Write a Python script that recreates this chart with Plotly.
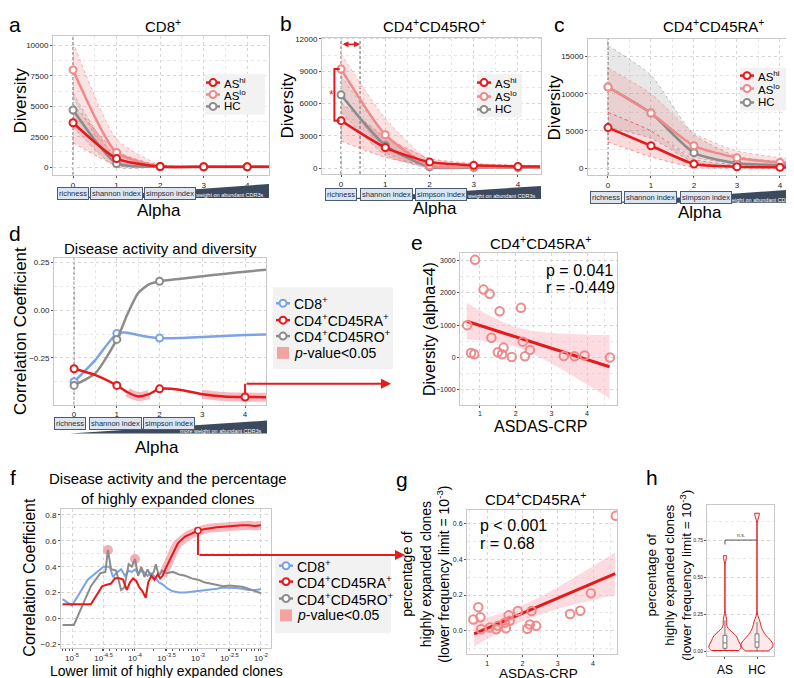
import plotly.graph_objects as go

W, H = 794, 678
FONT = "Liberation Sans, Arial, sans-serif"
RED = "#e41a1c"
PINK = "#f08a8a"
GREY = "#8c8c8c"
BLUE = "#7ca3e4"

# ---- a-c: diversity profiles (alpha 0..4 plus right edge) ----
alpha = [0, 1, 2, 3, 4, 4.5]
alpha_labels = ["richness", "shannon index", "simpson index"]

a_hi = [3650, 700, 50, 30, 30, 30]
a_hi_lo = [2000, 150, 0, 0, 0, 0]
a_hi_up = [5200, 1300, 150, 70, 70, 70]
a_lo = [8000, 1200, 60, 30, 30, 30]
a_lo_lo = [5800, 250, 0, 0, 0, 0]
a_lo_up = [10300, 2300, 200, 80, 80, 80]
a_hc = [4700, 300, 30, 20, 20, 20]
a_hc_lo = [3300, 0, 0, 0, 0, 0]
a_hc_up = [6100, 800, 100, 50, 50, 50]

b_hi = [4400, 1900, 550, 250, 150, 130]
b_hi_lo = [2500, 1000, 200, 80, 40, 30]
b_hi_up = [6100, 2900, 900, 420, 260, 230]
b_lo = [9200, 3100, 200, 100, 60, 50]
b_lo_lo = [7200, 1500, 0, 0, 0, 0]
b_lo_up = [10600, 4600, 700, 300, 200, 180]
b_hc = [6800, 2100, 100, 50, 30, 30]
b_hc_lo = [5200, 1200, 0, 0, 0, 0]
b_hc_up = [8600, 3100, 350, 150, 100, 90]

c_hi = [5450, 3000, 550, 180, 90, 80]
c_hi_lo = [3500, 1500, 100, 0, 0, 0]
c_hi_up = [7500, 5000, 1200, 450, 300, 280]
c_lo = [10900, 7400, 3000, 1400, 760, 650]
c_lo_lo = [7500, 5000, 1500, 600, 250, 200]
c_lo_up = [13500, 10000, 4700, 2300, 1400, 1250]
c_hc = [10900, 7400, 2050, 650, 400, 350]
c_hc_lo = [5500, 4000, 800, 200, 100, 80]
c_hc_up = [16500, 12500, 4500, 1600, 900, 800]

# ---- d: correlation with disease activity vs alpha ----
d_alpha = [0, 0.5, 1, 1.25, 1.5, 1.75, 2, 2.5, 3, 3.5, 4, 4.5]
d_cd8 = [-0.375, -0.26, -0.122, -0.118, -0.13, -0.14, -0.146, -0.145, -0.14, -0.135, -0.13, -0.127]
d_ra = [-0.307, -0.34, -0.394, -0.43, -0.452, -0.44, -0.412, -0.418, -0.44, -0.452, -0.455, -0.456]
d_ro = [-0.394, -0.33, -0.153, -0.02, 0.09, 0.135, 0.152, 0.165, 0.178, 0.19, 0.202, 0.212]
d_marks = [0, 1, 2]
d_ra_marks = [0, 1, 2, 4]
d_sig = [[1.25, 1.5, 1.75], [3, 3.5, 4, 4.5]]

# ---- e: diversity (alpha=4) vs ASDAS-CRP ----
e_asdas = [0.86, 1.10, 1.27, 0.64, 1.55, 2.15, 1.32, 0.75, 0.84, 1.50, 1.62, 1.66, 1.89, 2.20, 2.26, 2.40, 3.35, 3.65, 3.93, 4.64]
e_div = [3020, 2100, 1970, 1000, 1430, 1535, 610, 140, 100, 160, 100, 305, 15, 490, 40, 230, 45, 40, 60, 0]
e_fit_x = [0.63, 1.0, 1.5, 2.0, 2.5, 3.0, 3.5, 4.0, 4.63]
e_fit = [1120, 990, 814, 638, 462, 286, 110, -66, -288]
e_fit_lo = [555, 529, 463, 331, 105, -186, -506, -839, -1268]
e_fit_hi = [1685, 1451, 1165, 945, 819, 758, 726, 707, 692]

# ---- f: correlation vs lower limit (log10) ----
f_ra_x = [-5.15, -4.70, -4.52, -4.45, -4.38, -4.32, -4.25, -4.19, -4.13, -4.08, -4.03, -3.98, -3.93, -3.88,
          -3.83, -3.79, -3.74, -3.69, -3.64, -3.60, -3.56, -3.52, -3.48, -3.44, -3.40, -3.36, -3.32, -3.28,
          -3.24, -3.20, -3.15, -3.10, -3.05, -3.00, -2.90, -2.80, -2.70, -2.60, -2.50, -2.40, -2.30, -2.20,
          -2.10, -2.00]
f_ra_y = [0.11, 0.11, 0.25, 0.26, 0.27, 0.31, 0.31, 0.30, 0.22, 0.28, 0.31, 0.29, 0.24, 0.21,
          0.16, 0.28, 0.33, 0.30, 0.34, 0.31, 0.33, 0.38, 0.42, 0.46, 0.51, 0.55, 0.58, 0.60,
          0.62, 0.635, 0.645, 0.655, 0.665, 0.68, 0.69, 0.70, 0.705, 0.71, 0.715, 0.72, 0.72, 0.72,
          0.715, 0.72]
f_ro_x = [-5.15, -4.97, -4.70, -4.55, -4.47, -4.43, -4.38, -4.30, -4.22, -4.17, -4.10, -4.05, -4.00,
          -3.95, -3.90, -3.85, -3.80, -3.75, -3.70, -3.67, -3.62, -3.57, -3.50, -3.40, -3.30, -3.20,
          -3.10, -3.00, -2.90, -2.80, -2.70, -2.60, -2.50, -2.40, -2.30, -2.20, -2.10, -2.00]
f_ro_y = [-0.05, -0.05, 0.25, 0.35, 0.36, 0.53, 0.38, 0.37, 0.22, 0.24, 0.42, 0.40, 0.46,
          0.33, 0.40, 0.32, 0.38, 0.33, 0.36, 0.42, 0.33, 0.37, 0.35, 0.36, 0.34, 0.33,
          0.31, 0.30, 0.28, 0.27, 0.26, 0.25, 0.255, 0.25, 0.245, 0.23, 0.21, 0.195]
f_cd8_x = [-5.15, -5.00, -4.75, -4.65, -4.55, -4.50, -4.40, -4.35, -4.30, -4.22, -4.16, -4.10, -4.05,
           -4.00, -3.95, -3.88, -3.80, -3.75, -3.70, -3.62, -3.55, -3.48, -3.40, -3.30, -3.20, -3.10,
           -3.00, -2.90, -2.80, -2.70, -2.60, -2.50, -2.40, -2.30, -2.20, -2.10, -2.00]
f_cd8_y = [0.15, 0.10, 0.30, 0.34, 0.38, 0.40, 0.40, 0.32, 0.35, 0.38, 0.33, 0.37, 0.36,
           0.38, 0.35, 0.37, 0.33, 0.35, 0.33, 0.28, 0.26, 0.23, 0.21, 0.20, 0.20, 0.205,
           0.21, 0.22, 0.225, 0.23, 0.24, 0.24, 0.235, 0.23, 0.22, 0.22, 0.225]
f_ra_sig_from = -3.56
f_ro_sig = [-4.43, -4.00]
f_pick = -3.00
f_ticks = [-5, -4.5, -4, -3.5, -3, -2.5, -2]

# ---- g: percentage of highly expanded clones vs ASDAS-CRP ----
g_asdas = [4.65, 3.94, 3.64, 3.35, 0.61, 0.75, 0.81, 0.83, 1.08, 1.26, 1.31, 1.50, 1.53, 1.61, 1.64, 1.87, 2.14, 2.21, 2.26, 2.39]
g_pct = [0.645, 0.21, 0.112, 0.094, 0.063, 0.132, 0.075, 0.008, 0.018, 0.008, 0.027, 0.045, 0.014, 0.086, 0.055, 0.11, 0.011, 0.035, 0.11, 0.027]
g_fit_x = [0.63, 1.0, 1.5, 2.0, 2.5, 3.0, 3.5, 4.0, 4.63]
g_fit = [-0.018, 0.013, 0.056, 0.098, 0.140, 0.182, 0.225, 0.267, 0.320]
g_fit_lo = [-0.090, -0.047, 0.007, 0.053, 0.090, 0.121, 0.148, 0.172, 0.202]
g_fit_hi = [0.054, 0.074, 0.105, 0.143, 0.190, 0.244, 0.302, 0.362, 0.438]

# ---- h: AS vs HC ----
h_as = g_pct
h_hc = [0.005, 0.01, 0.02, 0.03, 0.04, 0.05, 0.06, 0.07, 0.08, 0.10, 0.12, 0.15, 0.20, 0.93]


def fx(px):
    return px / W


def fy(py):
    return 1 - py / H


fig = go.Figure()
shapes = []
annotations = []


def sc(xa, ya, **kw):
    fig.add_trace(go.Scatter(xaxis=xa, yaxis=ya, showlegend=False, **kw))


def band(xa, ya, x, lo, hi, fill, edge, shape="spline"):
    ln = dict(color=edge, width=0.8, dash="dot", shape=shape, smoothing=0.6)
    sc(xa, ya, x=x, y=lo, mode="lines", line=ln, hoverinfo="skip")
    sc(xa, ya, x=x, y=hi, mode="lines", line=ln, fill="tonexty", fillcolor=fill, hoverinfo="skip")


def profile(xa, ya, x, y, color, name, mx=None):
    sc(xa, ya, x=x, y=y, mode="lines", name=name, line=dict(color=color, width=2.5, shape="spline", smoothing=0.6))
    if mx is None:
        mx = x[:5]
    my = [y[x.index(v)] for v in mx]
    sc(xa, ya, x=mx, y=my, mode="markers", name=name,
       marker=dict(size=7, color="white", line=dict(color=color, width=2)))


def txt(text, x, y, size, color="black", xanchor="center", yanchor="middle", **kw):
    annotations.append(dict(text=text, x=fx(x), y=fy(y), xref="paper", yref="paper", showarrow=False,
                            font=dict(family=FONT, size=size, color=color),
                            xanchor=xanchor, yanchor=yanchor, **kw))


def alpha_strip(xa, left, right, top, bot, box_y, box_x):
    shapes.append(dict(type="path", xref="paper", yref="paper",
                       path=f"M {fx(left)},{fy(bot)} L {fx(right)},{fy(bot)} L {fx(right)},{fy(top)} Z",
                       fillcolor="#3b4a5e", line=dict(width=0)))
    txt("more weight on abundant CDR3s", right - 3, bot - 2.5, 5.5, color="white", xanchor="right")
    for lab, xv in zip(alpha_labels, box_x):
        annotations.append(dict(text=lab, x=xv, y=fy(box_y), xref=xa, yref="paper", showarrow=False,
                                font=dict(family=FONT, size=7.5, color="#1d2b3c"),
                                bgcolor="#dde6f0", bordercolor="#4a5b73", borderwidth=1, borderpad=1))


def legend_box(x0, y0, x1, y1):
    shapes.append(dict(type="rect", xref="paper", yref="paper", x0=fx(x0), x1=fx(x1), y0=fy(y1), y1=fy(y0),
                       fillcolor="#f2f2f2", line=dict(width=0)))


def legend_item(color, x, y, label, size, square=False):
    if square:
        shapes.append(dict(type="rect", xref="paper", yref="paper", x0=fx(x - 6), x1=fx(x + 6),
                           y0=fy(y + 6), y1=fy(y - 6), fillcolor="#f4a3a3", line=dict(width=0)))
    else:
        shapes.append(dict(type="line", xref="paper", yref="paper", x0=fx(x - 7), x1=fx(x + 7),
                           y0=fy(y), y1=fy(y), line=dict(color=color, width=2.5)))
        shapes.append(dict(type="circle", xref="paper", yref="paper", x0=fx(x - 3.5), x1=fx(x + 3.5),
                           y0=fy(y + 3.5), y1=fy(y - 3.5), fillcolor="white", line=dict(color=color, width=2)))
    txt(label, x + 9, y, size, xanchor="left")


def vdash(xa, xv):
    shapes.append(dict(type="line", xref=xa, yref=xa.replace("x", "y") + " domain", x0=xv, x1=xv, y0=0, y1=1,
                       line=dict(color="#333", width=0.8, dash="3px,2px"), layer="below"))


# ---------- panels a, b, c ----------
for xa, ya, hc, lo, hi in [
    ("x", "y", (a_hc, a_hc_lo, a_hc_up), (a_lo, a_lo_lo, a_lo_up), (a_hi, a_hi_lo, a_hi_up)),
    ("x2", "y2", (b_hc, b_hc_lo, b_hc_up), (b_lo, b_lo_lo, b_lo_up), (b_hi, b_hi_lo, b_hi_up)),
    ("x3", "y3", (c_hc, c_hc_lo, c_hc_up), (c_lo, c_lo_lo, c_lo_up), (c_hi, c_hi_lo, c_hi_up)),
]:
    band(xa, ya, alpha, hc[1], hc[2], "rgba(150,150,150,0.22)", "rgba(120,120,120,0.6)")
    band(xa, ya, alpha, lo[1], lo[2], "rgba(240,128,128,0.22)", "rgba(240,128,128,0.7)")
    band(xa, ya, alpha, hi[1], hi[2], "rgba(228,26,28,0.16)", "rgba(228,26,28,0.5)")
    profile(xa, ya, alpha, hc[0], GREY, "HC")
    profile(xa, ya, alpha, lo[0], PINK, "AS lo")
    profile(xa, ya, alpha, hi[0], RED, "AS hi")

# ---------- panel d ----------
for seg in d_sig:
    sc("x4", "y4", x=seg, y=[d_ra[d_alpha.index(v)] for v in seg], mode="lines", hoverinfo="skip",
       line=dict(color="rgba(242,140,150,0.6)", width=9, shape="spline"))
profile("x4", "y4", d_alpha, d_cd8, BLUE, "CD8+", d_marks)
profile("x4", "y4", d_alpha, d_ro, GREY, "CD4+CD45RO+", d_marks)
d_pick = 4
d_pick_y = d_ra[d_alpha.index(d_pick)]
sc("x4", "y4", x=[d_pick, d_pick], y=[d_pick_y, -0.385], mode="lines", hoverinfo="skip",
   line=dict(color=RED, width=2))
profile("x4", "y4", d_alpha, d_ra, RED, "CD4+CD45RA+", d_ra_marks)

# ---------- panel e ----------
band("x5", "y5", e_fit_x, e_fit_lo, e_fit_hi, "rgba(250,185,195,0.5)", "rgba(0,0,0,0)")
sc("x5", "y5", x=e_fit_x, y=e_fit, mode="lines", line=dict(color=RED, width=3))
sc("x5", "y5", x=e_asdas, y=e_div, mode="markers",
   marker=dict(symbol="circle-open", size=8.5, color="#ee8a8a", line=dict(width=2)))

# ---------- panel f ----------
sig_x = [v for v in f_ra_x if v >= f_ra_sig_from]
sc("x6", "y6", x=sig_x, y=[f_ra_y[f_ra_x.index(v)] for v in sig_x], mode="lines", hoverinfo="skip",
   line=dict(color="rgba(242,140,150,0.6)", width=9))
sc("x6", "y6", x=f_ro_sig, y=[f_ro_y[f_ro_x.index(v)] for v in f_ro_sig], mode="markers", hoverinfo="skip",
   marker=dict(size=10, color="rgba(242,140,150,0.7)"))
sc("x6", "y6", x=f_cd8_x, y=f_cd8_y, mode="lines", line=dict(color=BLUE, width=2))
sc("x6", "y6", x=f_ro_x, y=f_ro_y, mode="lines", line=dict(color=GREY, width=2))
f_pick_y = f_ra_y[f_ra_x.index(f_pick)]
sc("x6", "y6", x=[f_pick, f_pick], y=[f_pick_y, 0.49], mode="lines", hoverinfo="skip",
   line=dict(color=RED, width=2))
sc("x6", "y6", x=f_ra_x, y=f_ra_y, mode="lines", line=dict(color=RED, width=2))
sc("x6", "y6", x=[f_pick], y=[f_pick_y], mode="markers",
   marker=dict(size=6, color="white", line=dict(color=RED, width=1.5)))

# ---------- panel g ----------
band("x7", "y7", g_fit_x, g_fit_lo, g_fit_hi, "rgba(250,185,195,0.5)", "rgba(0,0,0,0)")
sc("x7", "y7", x=g_fit_x, y=g_fit, mode="lines", line=dict(color=RED, width=3))
sc("x7", "y7", x=g_asdas, y=g_pct, mode="markers",
   marker=dict(symbol="circle-open", size=8.5, color="#ee8a8a", line=dict(width=2)))

# ---------- panel h ----------
for name, vals in [("AS", h_as), ("HC", h_hc)]:
    fig.add_trace(go.Violin(x=[name] * len(vals), y=vals, xaxis="x8", yaxis="y8", showlegend=False,
                            line=dict(color=RED, width=1), fillcolor="rgba(252,215,215,0.55)",
                            spanmode="hard", bandwidth=0.03, width=1.0, points=False,
                            box=dict(visible=True, width=0.12, fillcolor="white", line=dict(color="#777", width=1)),
                            meanline=dict(visible=False)))

# ---------- axes ----------
AX = dict(showline=True, linecolor="#c8c8c8", linewidth=1, mirror=True, ticks="outside", ticklen=2,
          tickcolor="#555", tickfont=dict(family=FONT, size=8, color="#222"), showgrid=True,
          gridcolor="#d6d6d6", griddash="dot", zeroline=False, fixedrange=True)
MINOR = dict(showgrid=True, gridcolor="#e8e8e8", griddash="dot")

layout = {}


def set_axes(n, xpx, ypx, xr, yr, xkw, ykw):
    s = "" if n == 1 else str(n)
    layout["xaxis" + s] = dict(AX, domain=[fx(xpx[0]), fx(xpx[1])], range=xr, anchor="y" + s, **xkw)
    layout["yaxis" + s] = dict(AX, domain=[fy(ypx[1]), fy(ypx[0])], range=yr, anchor="x" + s, **ykw)


ax_alpha = dict(tick0=0, dtick=1, minor=dict(MINOR, dtick=0.5))
set_axes(1, (45, 261), (25, 165), [-0.46, 4.5], [-650, 10800], ax_alpha,
         dict(tick0=0, dtick=2500, tickformat="d", minor=dict(MINOR, dtick=1250)))
set_axes(2, (314, 533), (27, 164), [-0.43, 4.52], [-560, 12100], ax_alpha,
         dict(tick0=0, dtick=3000, tickformat="d", minor=dict(MINOR, dtick=1500)))
set_axes(3, (580, 793), (28, 165), [-0.465, 4.49], [-940, 17400], ax_alpha,
         dict(tick0=0, dtick=5000, tickformat="d", minor=dict(MINOR, dtick=2500)))
set_axes(4, (46, 258), (248, 396), [-0.47, 4.49], [-0.495, 0.276], ax_alpha,
         dict(tick0=0, dtick=0.25, tickformat=".2f", minor=dict(MINOR, dtick=0.125)))
set_axes(5, (452, 609), (243, 396), [0.44, 4.84], [-1460, 3246],
         dict(tick0=0, dtick=1, minor=dict(MINOR, dtick=0.5), tickfont=dict(family=FONT, size=7, color="#222")),
         dict(tick0=0, dtick=1000, tickformat="d", minor=dict(MINOR, dtick=500),
              tickfont=dict(family=FONT, size=7, color="#222")))
f_minor = [round(e + k, 4) for e in [-6, -5, -4, -3] for k in
           [0.30103, 0.47712, 0.60206, 0.69897, 0.77815, 0.84510, 0.90309, 0.95424]]
set_axes(6, (53, 263), (501, 641), [-5.175, -1.84], [-0.23, 0.846],
         dict(tickmode="array", tickvals=f_ticks,
              ticktext=["10<sup>%g</sup>" % t for t in f_ticks],
              minor=dict(tickmode="array", tickvals=f_minor, ticks="outside", ticklen=2, tickcolor="#555",
                         showgrid=False)),
         dict(tick0=0, dtick=0.2, tickformat=".1f", minor=dict(MINOR, dtick=0.1)))
set_axes(7, (459, 609), (502, 647), [0.43, 4.68], [-0.132, 0.677],
         dict(tick0=0, dtick=1, minor=dict(MINOR, dtick=0.5), tickfont=dict(family=FONT, size=7, color="#222")),
         dict(tick0=0, dtick=0.2, tickformat=".1f", minor=dict(MINOR, dtick=0.1),
              tickfont=dict(family=FONT, size=7, color="#222")))
set_axes(8, (699, 766), (497, 649), [-0.56, 1.53], [-0.03, 0.985],
         dict(type="category", showgrid=False, tickfont=dict(family=FONT, size=12, color="black")),
         dict(tickmode="array", tickvals=[0, 0.25, 0.5, 0.75], ticktext=["0.00", "0.25", "0.50", "0.75"],
              minor=dict(MINOR, dtick=0.125), tickfont=dict(family=FONT, size=5, color="#222")))

# ---------- decorations ----------
vdash("x", 0)
vdash("x2", 0)
vdash("x2", 0.43)
vdash("x3", 0)
vdash("x4", 0)

alpha_strip("x", 63, 261, 174, 188, 177, [0, 1, 2.23])
alpha_strip("x2", 332, 533, 176, 189, 178, [0, 1.02, 2.26])
alpha_strip("x3", 598, 793, 179, 193, 181, [-0.05, 1.0, 2.28])
alpha_strip("x4", 62, 259, 412, 425, 415, [-0.1, 0.96, 2.22])

# b: significance bracket and window arrow
shapes.append(dict(type="path", xref="x2", yref="y2", path="M -0.03,9200 L -0.15,9200 L -0.15,4400 L -0.03,4400",
                   line=dict(color=RED, width=2)))
annotations.append(dict(text="*", x=-0.22, y=6800, xref="x2", yref="y2", showarrow=False,
                        font=dict(family=FONT, size=12, color=RED)))
annotations.append(dict(text="", x=0.43, y=11500, ax=0, ay=11500, xref="x2", yref="y2", axref="x2", ayref="y2",
                        showarrow=True, arrowside="end+start", arrowhead=2, arrowsize=0.8, arrowwidth=1.5,
                        arrowcolor=RED))

# d -> e arrow
d_px = 46 + (d_pick + 0.47) / (4.49 + 0.47) * (258 - 46)
annotations.append(dict(text="", x=fx(383), y=-0.385, xref="paper", yref="y4", ax=-(383 - d_px), ay=0,
                        showarrow=True, arrowhead=2, arrowsize=1, arrowwidth=2, arrowcolor=RED, standoff=0))

# f -> g arrow
f_px = 53 + (f_pick + 5.175) / (-1.84 + 5.175) * (263 - 53)
annotations.append(dict(text="", x=fx(397), y=0.49, xref="paper", yref="y6", ax=-(397 - f_px), ay=0,
                        showarrow=True, arrowhead=2, arrowsize=1, arrowwidth=2, arrowcolor=RED, standoff=0))

# h: n.s. bracket
shapes.append(dict(type="path", xref="x8", yref="y8", path="M 0,0.72 L 0,0.75 L 1,0.75",
                   line=dict(color="#555", width=1)))
annotations.append(dict(text="n.s.", x=0.5, y=0.75, xref="x8", yref="y8", yanchor="bottom", showarrow=False,
                        font=dict(family=FONT, size=5, color="#333")))

# legends
legend_box(197, 63, 257, 104)
legend_item(RED, 205, 72, "AS<sup>hi</sup>", 11.5)
legend_item(PINK, 205, 84, "AS<sup>lo</sup>", 11.5)
legend_item(GREY, 205, 96, "HC", 11.5)

legend_box(469, 63, 514, 107)
legend_item(RED, 476, 72, "AS<sup>hi</sup>", 11.5)
legend_item(PINK, 476, 86, "AS<sup>lo</sup>", 11.5)
legend_item(GREY, 476, 99, "HC", 11.5)

legend_box(732, 57, 779, 100)
legend_item(RED, 739, 65, "AS<sup>hi</sup>", 11.5)
legend_item(PINK, 739, 78, "AS<sup>lo</sup>", 11.5)
legend_item(GREY, 739, 92, "HC", 11.5)

legend_box(265, 278, 385, 360)
legend_item(BLUE, 275, 294, "CD8<sup>+</sup>", 14)
legend_item(RED, 275, 311, "CD4<sup>+</sup>CD45RA<sup>+</sup>", 14)
legend_item(GREY, 275, 327, "CD4<sup>+</sup>CD45RO<sup>+</sup>", 14)
legend_item(RED, 275, 344, "<i>p</i>-value&lt;0.05", 14, square=True)

legend_box(267, 549, 383, 626)
legend_item(BLUE, 278, 558, "CD8<sup>+</sup>", 14)
legend_item(RED, 278, 574, "CD4<sup>+</sup>CD45RA<sup>+</sup>", 14)
legend_item(GREY, 278, 591, "CD4<sup>+</sup>CD45RO<sup>+</sup>", 14)
legend_item(RED, 278, 608, "<i>p</i>-value&lt;0.05", 14, square=True)

# panel letters
for lab, x, y in [("a", 7, 14), ("b", 278, 13), ("c", 551, 14), ("d", 7, 224), ("e", 409, 233),
                  ("f", 5, 469), ("g", 394, 471), ("h", 644, 469)]:
    txt(lab, x, y, 21)

# titles
txt("CD8<sup>+</sup>", 155, 15, 15)
txt("CD4<sup>+</sup>CD45RO<sup>+</sup>", 427, 15, 15)
txt("CD4<sup>+</sup>CD45RA<sup>+</sup>", 705, 15, 15)
txt("Disease activity and diversity", 152, 239, 15)
txt("CD4<sup>+</sup>CD45RA<sup>+</sup>", 532, 233, 15)
txt("Disease activity and the percentage<br>of highly expanded clones", 160, 480, 15)
txt("CD4<sup>+</sup>CD45RA<sup>+</sup>", 527, 490, 15)

# axis titles
txt("Diversity", 12, 90, 17, textangle=-90)
txt("Diversity", 279, 95, 17, textangle=-90)
txt("Diversity", 546, 97, 17, textangle=-90)
txt("Alpha", 151, 201, 17)
txt("Alpha", 427, 199, 17)
txt("Alpha", 692, 203, 17)
txt("Correlation Coefficient", 12, 322, 17, textangle=-90)
txt("Alpha", 149, 439, 17)
txt("Diversity (alpha=4)", 421, 320, 16, textangle=-90)
txt("ASDAS-CRP", 532, 418, 16)
txt("Correlation Coefficient", 22, 570, 16, textangle=-90)
txt("Lower limit of highly expanded clones", 158, 664, 14)
txt("percentage of<br>highly expanded clones<br>(lower frequency limit = 10<sup>-3</sup>)", 417, 567, 14,
    textangle=-90)
txt("ASDAS-CRP", 530, 666, 13.5)
txt("percentage of<br>highly expanded clones<br>(lower frequency limit = 10<sup>-3</sup>)", 661, 568, 13.5,
    textangle=-90)

# stats text
txt("p = 0.041", 536, 261, 16, xanchor="left")
txt("r = -0.449", 536, 278, 16, xanchor="left")
txt("p &lt; 0.001", 470, 518, 16, xanchor="left")
txt("r = 0.68", 470, 536, 16, xanchor="left")

fig.update_layout(**layout)
fig.update_layout(width=W, height=H, margin=dict(l=0, r=0, t=0, b=0), paper_bgcolor="white",
                  plot_bgcolor="white", showlegend=False, font=dict(family=FONT),
                  shapes=shapes, annotations=annotations)

fig.write_html("out.html")
